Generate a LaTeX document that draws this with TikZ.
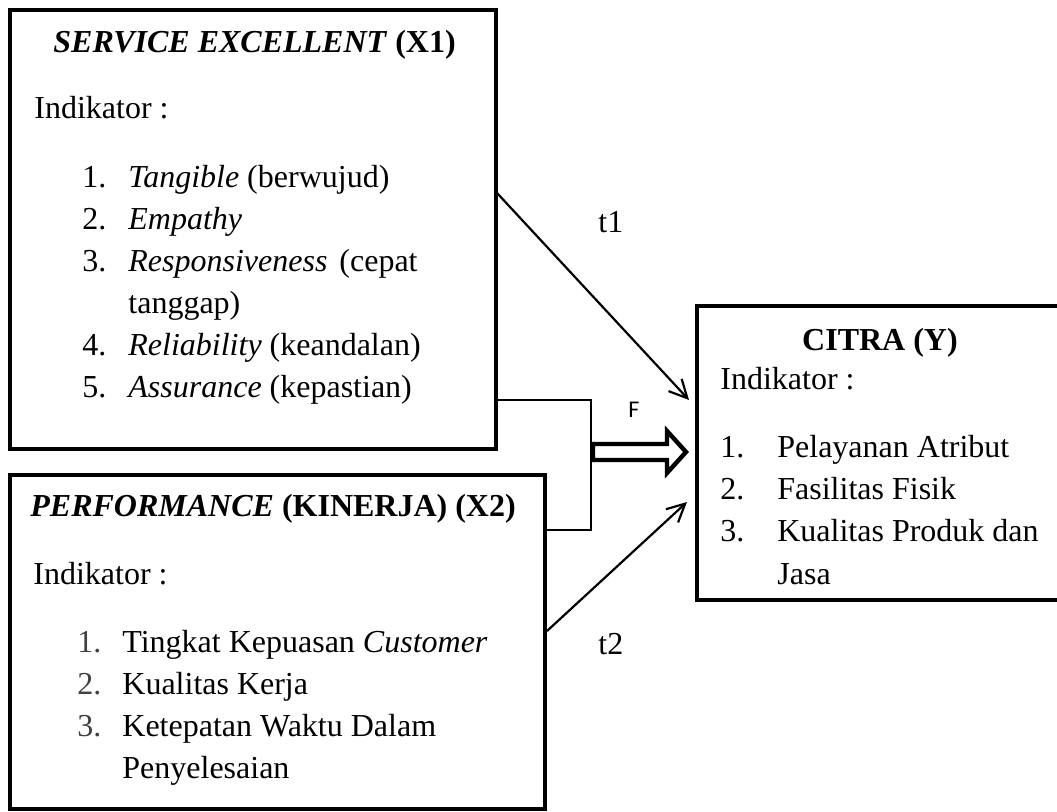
\documentclass[tikz,border=0pt]{standalone}
\usepackage{fontspec}
\setmainfont{Liberation Serif}
\newfontfamily\sansF{Carlito}
\usetikzlibrary{arrows.meta,fit}

\begin{document}
\begin{tikzpicture}[x=0.5pt,y=-0.5pt,
        every node/.style={font=\fontsize{16}{19}\selectfont},
        box/.style={draw,line width=2.2pt,inner sep=0pt},
        txt/.style={anchor=base west,inner sep=0pt},
        arr/.style={-{Straight Barb[length=9pt,width=9pt]},line width=1.1pt},
        link/.style={line width=0.6pt},
        fat/.style={line width=2.2pt,miter limit=10}]
        \clip (0,0) rectangle (1057,812);
        % the three boxes
        \node[box,fit={(10,10) (496,449)}] (x1) {};
        \node[box,fit={(10,475) (545,809)}] (x2) {};
        \node[box,fit={(697,306) (1080,600)}] (y) {};
        % X1
        \node[txt] (x1t) at (53,53) {\textbf{\textit{SERVICE EXCELLENT}} \textbf{(X1)}};
        \node[txt] (x1ind) at (34,119) {Indikator :};
        \node[txt] (x1a) at (82,188) {\makebox[23pt][l]{1.}\textit{Tangible} (berwujud)};
        \node[txt] (x1b) at (82,230) {\makebox[23pt][l]{2.}\textit{Empathy}};
        \node[txt] (x1c) at (82,272) {\makebox[23pt][l]{3.}\textit{Responsiveness}\hspace{6pt}(cepat};
        \node[txt] (x1c2) at (128,314) {tanggap)};
        \node[txt] (x1d) at (82,356) {\makebox[23pt][l]{4.}\textit{Reliability} (keandalan)};
        \node[txt] (x1e) at (82,398) {\makebox[23pt][l]{5.}\textit{Assurance} (kepastian)};
        % X2
        \node[txt] (x2t) at (30,517) {\textbf{\textit{PERFORMANCE}} \textbf{(KINERJA) (X2)}};
        \node[txt] (x2ind) at (33,585) {Indikator :};
        \node[txt] (x2a) at (77,653) {\makebox[22.5pt][l]{\color{black!75}1.}Tingkat Kepuasan \textit{Customer}};
        \node[txt] (x2b) at (77,695) {\makebox[22.5pt][l]{\color{black!75}2.}Kualitas Kerja};
        \node[txt] (x2c) at (77,737) {\makebox[22.5pt][l]{\color{black!75}3.}Ketepatan Waktu Dalam};
        \node[txt] (x2c2) at (122,779) {Penyelesaian};
        % Y
        \node[txt,anchor=base] (yt) at (880,351) {\textbf{CITRA (Y)}};
        \node[txt] (yind) at (720,390) {Indikator :};
        \node[txt] (ya) at (720,458) {\makebox[28.5pt][l]{1.}Pelayanan Atribut};
        \node[txt] (yb) at (720,500) {\makebox[28.5pt][l]{2.}Fasilitas Fisik};
        \node[txt] (yc) at (720,542) {\makebox[28.5pt][l]{3.}Kualitas Produk dan};
        \node[txt] (yc2) at (777,585) {Jasa};
        % connectors
        \coordinate (t1s) at (497,193);
        \coordinate (t1e) at (689,400);
        \coordinate (t2s) at (547,631);
        \coordinate (t2e) at (687,502);
        \coordinate (fa) at (497,400);
        \coordinate (fb) at (547,530);
        \coordinate (fj) at (591,452);
        \draw[arr] (t1s) -- (t1e);
        \draw[arr] (t2s) -- (t2e);
        \draw[link] (fa) -| (fj) |- (fb);
        \draw[fat] (fj) ++(2,-8) -- ++(74,0) -- ++(0,-13) -- ++(19,21)
                -- ++(-19,21) -- ++(0,-13) -- ++(-74,0) -- cycle;
        \node[txt] (t1) at (598,233) {t1};
        \node[txt] (t2) at (598,655) {t2};
        \node[font=\sansF\fontsize{12}{14}\selectfont] (flab) at (634,410) {F};
\end{tikzpicture}
\end{document}
